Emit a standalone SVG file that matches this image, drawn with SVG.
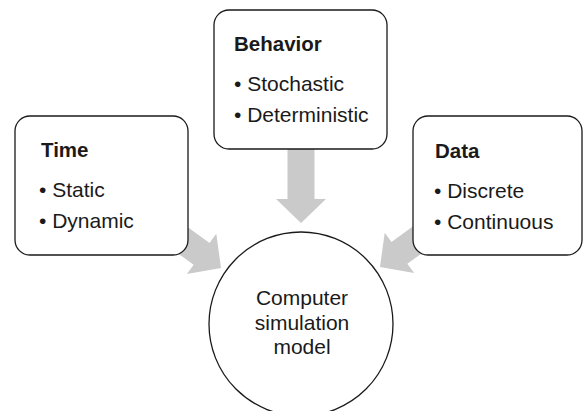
<svg xmlns="http://www.w3.org/2000/svg" width="583" height="411" viewBox="0 0 583 411">
<style>
.box{fill:#fff;stroke:#1a1a1a;stroke-width:1.3}
.arr{fill:#c9cac9;stroke:none}
text{font-family:"Liberation Sans",Arial,Helvetica,sans-serif;fill:#1a1a1a}
.h{font-size:20.5px;font-weight:bold}
.b{font-size:21px}
.c{font-size:21px;text-anchor:middle}
</style>
<defs>
<path id="blk" d="M0,0 L-24,-25 L-24,-13.5 L-80,-13.5 L-80,13.5 L-24,13.5 L-24,25 Z"/>
</defs>
<g id="connectors">
<use href="#blk" class="arr" transform="translate(221,268) rotate(36)"/>
<use href="#blk" class="arr" transform="translate(301,223) rotate(90)"/>
<use href="#blk" class="arr" transform="translate(380,267) rotate(144)"/>
</g>
<g id="time">
<rect class="box" x="15" y="116" width="173" height="139" rx="15"/>
<text class="h" x="41" y="157">Time</text>
<text class="b" x="39" y="197">• Static</text>
<text class="b" x="39" y="228">• Dynamic</text>
</g>
<g id="behavior">
<rect class="box" x="214" y="10" width="173" height="139" rx="15"/>
<text class="h" x="234" y="51">Behavior</text>
<text class="b" x="234" y="91">• Stochastic</text>
<text class="b" x="234" y="122">• Deterministic</text>
</g>
<g id="data">
<rect class="box" x="413" y="116" width="169" height="139" rx="15"/>
<text class="h" x="435" y="158">Data</text>
<text class="b" x="434" y="198">• Discrete</text>
<text class="b" x="434" y="229">• Continuous</text>
</g>
<g id="model">
<circle class="box" cx="301" cy="324" r="92"/>
<text class="c" x="302" y="305">Computer</text>
<text class="c" x="302" y="330">simulation</text>
<text class="c" x="302" y="354">model</text>
</g>
</svg>
